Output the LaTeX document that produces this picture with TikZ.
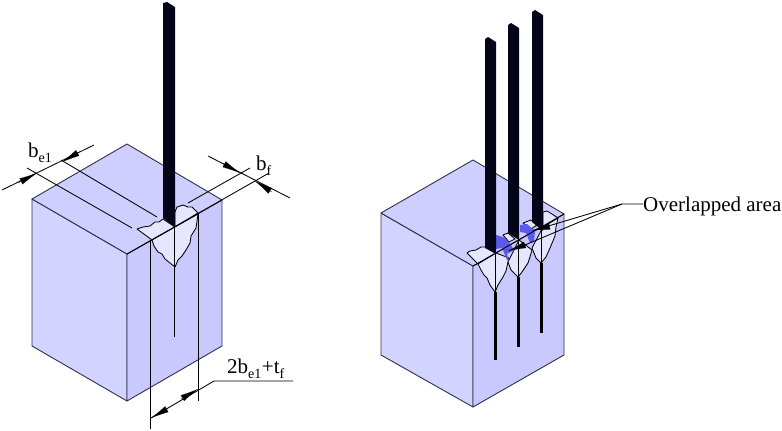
\documentclass[tikz,border=0pt]{standalone}
\usepackage{fontspec}
\setmainfont{Liberation Serif}
\usetikzlibrary{arrows.meta}
\definecolor{faceL}{HTML}{D3D3FF}
\definecolor{faceR}{HTML}{C9C9FF}
\definecolor{faceT}{HTML}{CFCFFF}
\definecolor{weldc}{HTML}{E6E6FF}
\definecolor{blueov}{HTML}{5A5AEE}
\definecolor{steel}{HTML}{05051A}
\definecolor{edgec}{HTML}{30304A}
\tikzset{
  x=1pt,y=-1pt,
  edgeline/.style={draw=edgec,line width=0.9pt,line join=round},
  thinline/.style={draw=black,line width=0.85pt},
  weldshape/.style={fill=weldc,draw=black,line width=0.85pt,line join=round},
  plate/.style={fill=steel,draw=none},
  slit/.style={draw=black,line width=2.4pt},
  tipline/.style={draw=black,line width=0.1pt,fill=black,-{Latex[length=18pt,width=6.5pt]}},
  overlap/.style={fill=blueov,draw=none},
  lab/.style={inner sep=0pt,anchor=base west,font=\fontsize{21}{24}\selectfont}
}
\begin{document}
\begin{tikzpicture}
\useasboundingbox (0,0) rectangle (782,431);
% ---- left block
\filldraw[edgeline,fill=faceL] (32,199) -- (127,254) -- (127,401) -- (32,346) -- cycle;
\filldraw[edgeline,fill=faceR] (127,254) -- (222,200) -- (222,346) -- (127,401) -- cycle;
\filldraw[edgeline,fill=faceT] (32,199) -- (127,144) -- (222,200) -- (127,254) -- cycle;
\draw[thinline] (61,160) -- (157,217);
\draw[thinline] (27,168) -- (132,228);
\draw[thinline] (250,168) -- (188,203);
% welds
\filldraw[weldshape] (137,229) -- (143,227) -- (150,226) -- (155,222) -- (159,222) -- (163,219) -- (175,227) -- (152,240) -- cycle;
\filldraw[weldshape] (175,227) -- (175,212) -- (177,207) -- (183,205) -- (188,207) -- (192,207) -- (198,213) -- cycle;
\filldraw[weldshape] (152,240) -- (154,246) -- (158,252) -- (162,254) -- (165,259) -- (170,263) -- (175,267) -- (178,260) -- (182,256) -- (186,250) -- (190,243) -- (191,236) -- (196,228) -- (197,221) -- (198,214) -- (175,227) -- cycle;
\draw[thinline] (174.5,227) -- (174.5,267);
\draw[slit,line width=1.8pt] (174.5,267) -- (174.5,337);
\draw[thinline] (127,254) -- (269,173);
\draw[thinline] (150.6,240) -- (150.6,429);
\draw[thinline] (198.4,213) -- (198.4,401);
\fill[plate] (163,218) -- (163,3) -- (167,2) -- (175,7) -- (175,227) -- cycle;
% dimensions
\draw[thinline] (2,190) -- (94,145);
\draw[tipline] (18,183) -- (37,173);
\draw[tipline] (81,151) -- (62,162);
\draw[thinline] (208,156) -- (290,198);
\draw[tipline] (222,163) -- (240,173);
\draw[tipline] (272,192) -- (255,181);
\node[lab] (be) at (28,157) {b\textsubscript{\raisebox{-2pt}{\fontsize{14}{14}\selectfont e1}}};
\node[lab] (bf) at (256,170) {b\textsubscript{\raisebox{-2pt}{\fontsize{14}{14}\selectfont f}}};
\node[lab] (wd) at (227,373) {2b\textsubscript{\raisebox{-2pt}{\fontsize{14}{14}\selectfont e1}}+t\textsubscript{\raisebox{-2pt}{\fontsize{14}{14}\selectfont f}}};
\coordinate (wdknee) at (214,381);
\coordinate (wdend) at (293,381);
\draw[thinline] (151,418) -- (wdknee) -- (wdend);
\draw[tipline] (168,408.5) -- (151,418);
\draw[tipline] (181,399) -- (198,389);
% ---- right block
\filldraw[edgeline,fill=faceL] (381,213) -- (473,266) -- (473,407) -- (381,355) -- cycle;
\filldraw[edgeline,fill=faceR] (473,266) -- (564,214) -- (564,355) -- (473,407) -- cycle;
\filldraw[edgeline,fill=faceT] (381,213) -- (473,160) -- (564,214) -- (473,266) -- cycle;
% welds on top face
\filldraw[weldshape] (467,253) -- (470,251) -- (476,250) -- (481,247) -- (485,247) -- (496,253) -- (478,264) -- cycle;
\filldraw[weldshape] (503,235) -- (508,233) -- (515,239) -- (509,242) -- cycle;
\filldraw[weldshape] (523,223) -- (531,220) -- (537,225) -- (531,229) -- cycle;
\filldraw[weldshape] (543,212) -- (547,211) -- (552,214) -- (558,218) -- (543,227) -- cycle;
% welds on side face
\filldraw[weldshape] (478,264) -- (481,270) -- (484,275) -- (487,278) -- (490,285) -- (495,292) -- (498,285) -- (503,277) -- (506,271) -- (508,262) -- (509,258) -- (496,253) -- cycle;
\filldraw[weldshape] (508,262) -- (511,270) -- (518,277) -- (522,272) -- (528,263) -- (530,257) -- (532,250) -- (519,240) -- cycle;
\filldraw[weldshape] (532,248) -- (536,258) -- (541,263) -- (546,257) -- (550,248) -- (555,236) -- (556,227) -- (558,218) -- (543,227) -- cycle;
% overlaps
\fill[overlap] (496,235) -- (503,237) -- (509,242) -- (514,250) -- (507,254) -- (509,262) -- (507,260) -- (502,248) -- (496,249) -- cycle;
\fill[overlap] (520,225) -- (527,224) -- (535,231) -- (534,242) -- (530,243) -- (526,233) -- (520,232) -- cycle;
% slits and edges
\draw[slit] (495.5,292) -- (495.5,360);
\draw[slit] (518.5,277) -- (518.5,347);
\draw[slit] (541.5,263) -- (541.5,333);
\draw[thinline] (495.5,253) -- (495.5,292);
\draw[thinline] (518.5,240) -- (518.5,277);
\draw[thinline] (541.5,227) -- (541.5,263);
\draw[thinline] (473,266) -- (564,214);
% plates
\fill[plate] (532,222) -- (532,12) -- (535,10) -- (543,15) -- (543,231) -- cycle;
\fill[plate] (508,233) -- (508,25) -- (511,23) -- (519,28) -- (519,240) -- cycle;
\fill[plate] (485,248) -- (485,39) -- (488,37) -- (496,42) -- (496,254) -- cycle;
% label
\node[lab] (ov) at (643,211) {Overlapped area};
\coordinate (ovknee) at (622,204);
\draw[thinline] (ov.west |- ovknee) -- (ovknee) -- (525,245);
\draw[thinline] (ovknee) -- (545,227);
\draw[tipline] (526,244.5) -- (508,251);
\draw[tipline] (549,226.5) -- (532,230.5);
\end{tikzpicture}
\end{document}
